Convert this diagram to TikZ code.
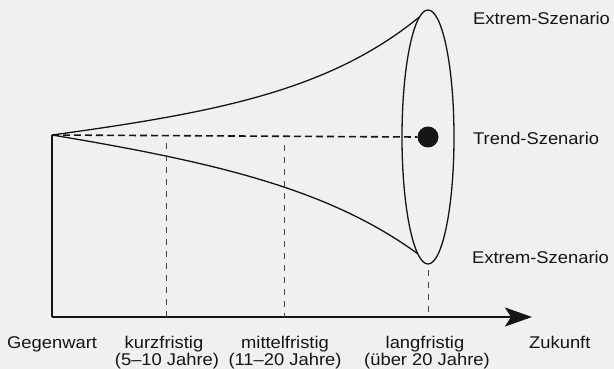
\documentclass[tikz,border=0pt]{standalone}
\usepackage{fontspec}
\setmainfont{Liberation Sans}[FakeStretch=1.08]
\usetikzlibrary{shapes.geometric,arrows.meta}
\definecolor{paper}{HTML}{F0F0F0}
\definecolor{ink}{HTML}{151515}
\begin{document}
\begin{tikzpicture}[x=1pt,y=-1pt,
  lbl/.style={inner sep=0pt, text=ink, font=\fontsize{17}{20}\selectfont},
  curve/.style={draw=ink, line width=1.3pt},
  trendline/.style={draw=ink, line width=1.6pt, dash pattern=on 7pt off 4pt},
  guide/.style={draw=ink!80, line width=0.6pt, dash pattern=on 6pt off 6pt},
  axisline/.style={draw=ink, line width=2pt}]
\fill[paper] (0,0) rectangle (614,369);
\useasboundingbox (0,0) rectangle (614,369);

% key points
\coordinate (apex) at (52,135);
\coordinate (origin) at (52,317);
\coordinate (tip) at (532,317);
\node[draw=ink, ellipse, line width=1.3pt, minimum width=52pt, minimum height=254pt, inner sep=0pt, outer sep=0pt] (ell) at (428,137) {};
\node[circle, fill=ink, minimum size=21pt, inner sep=0pt] (dot) at (428,137) {};

% funnel
\draw[curve] (apex) .. controls (220,112) and (330,90) .. (ell.94);
\draw[curve] (apex) .. controls (220,163) and (330,190) .. (ell.265);
\draw[trendline] (apex) -- (dot.west);

% axes
\draw[axisline] (apex) -- (origin);
\draw[axisline, -{Stealth[length=27pt,width=19pt,inset=6pt]}] (origin) -- (tip);

% guide lines
\coordinate (g1top) at (166,143);
\coordinate (g1bot) at (166,317);
\coordinate (g2top) at (284,145);
\coordinate (g2bot) at (284,317);
\coordinate (g3top) at (428,270);
\coordinate (g3bot) at (428,317);
\draw[guide] (g1top) -- (g1bot);
\draw[guide] (g2top) -- (g2bot);
\draw[guide] (g3top) -- (g3bot);

% right labels
\node[lbl, anchor=base west] (ext1) at (473,25) {Extrem-Szenario};
\node[lbl, anchor=base west] (trend) at (473,144) {Trend-Szenario};
\node[lbl, anchor=base west] (ext2) at (472,263) {Extrem-Szenario};

% bottom labels
\node[lbl, anchor=base west] (gegen) at (7,348) {Gegenwart};
\node[lbl, anchor=base] (kurz) at (164,348) {kurzfristig};
\node[lbl, anchor=base] (kurzy) at (167,365) {(5–10 Jahre)};
\node[lbl, anchor=base] (mittel) at (285,348) {mittelfristig};
\node[lbl, anchor=base] (mittely) at (285,365) {(11–20 Jahre)};
\node[lbl, anchor=base] (lang) at (425,348) {langfristig};
\node[lbl, anchor=base] (langy) at (427,365) {(über 20 Jahre)};
\node[lbl, anchor=base west] (zuk) at (529,348) {Zukunft};
\end{tikzpicture}
\end{document}
